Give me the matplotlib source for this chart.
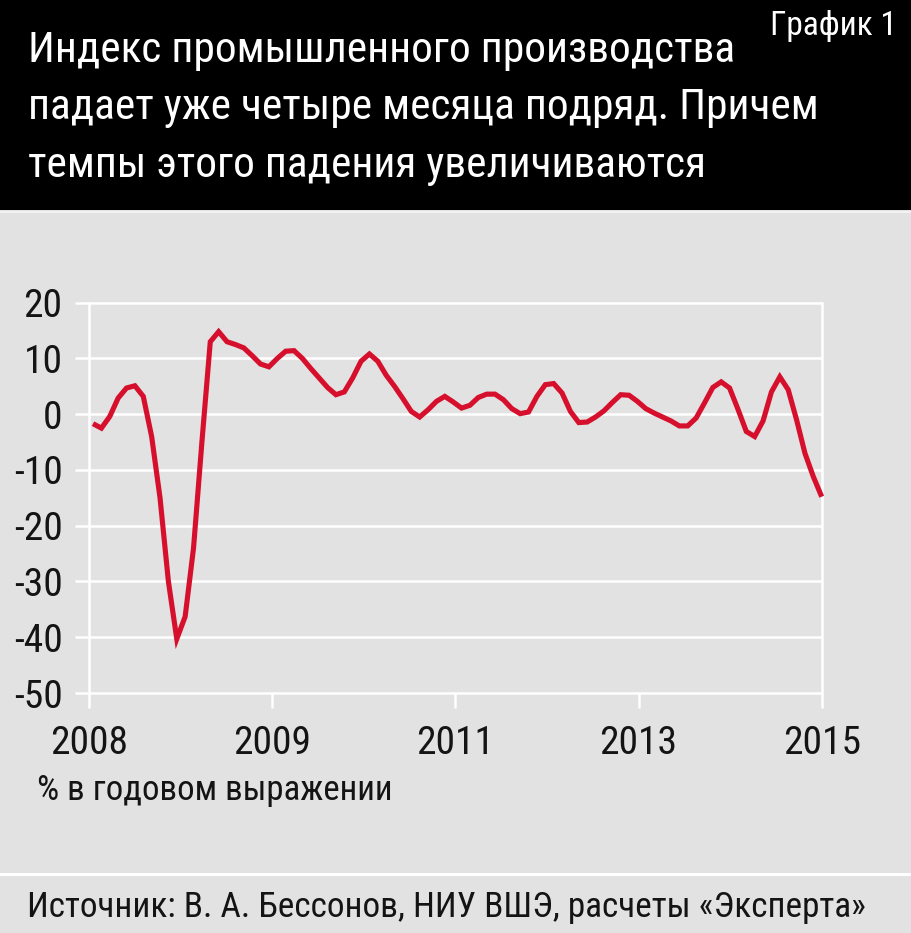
import matplotlib
matplotlib.use("Agg")
import matplotlib.pyplot as plt
from matplotlib import font_manager as fm
from matplotlib.patches import Rectangle
from matplotlib.lines import Line2D

# ---- data (monthly, Jan 2008 onward) ----
values = [-1.7, -2.5, -0.4, 2.9, 4.7, 5.1, 3.2, -4.0, -15.0, -30.0,
          -40.3, -36.3, -24.0, -5.0, 13.0, 14.8, 13.0, 12.5, 11.9, 10.5,
          9.0, 8.5, 10.0, 11.3, 11.4, 10.0, 8.2, 6.5, 4.8, 3.5,
          4.0, 6.5, 9.5, 10.8, 9.5, 7.0, 5.0, 2.8, 0.5, -0.5,
          0.8, 2.3, 3.2, 2.2, 1.1, 1.6, 3.0, 3.6, 3.6, 2.6,
          1.0, 0.1, 0.4, 3.2, 5.3, 5.5, 3.8, 0.5, -1.5, -1.4,
          -0.5, 0.6, 2.1, 3.5, 3.4, 2.3, 1.0, 0.2, -0.5, -1.2,
          -2.1, -2.1, -0.7, 2.0, 4.8, 5.8, 4.7, 0.9, -3.1, -4.0,
          -1.2, 4.0, 6.7, 4.4, -1.0, -7.0, -11.2, -14.8]
months = list(range(len(values)))

x_tick_labels = ["2008", "2009", "2011", "2013", "2015"]
y_ticks = [20, 10, 0, -10, -20, -30, -40, -50]

title_lines = ["Индекс промышленного производства",
               "падает уже четыре месяца подряд. Причем",
               "темпы этого падения увеличиваются"]
chart_no = "График 1"
unit_text = "% в годовом выражении"
source_text = "Источник: В. А. Бессонов, НИУ ВШЭ, расчеты «Эксперта»"

# ---- pick a narrow font if one is installed ----
names = {f.name for f in fm.fontManager.ttflist}
stretch = "normal"
if "Liberation Sans Narrow" in names:
    base = "Liberation Sans Narrow"
elif "Roboto Condensed" in names:
    base = "Roboto Condensed"
elif any(f.name == "DejaVu Sans" and "ondensed" in f.fname for f in fm.fontManager.ttflist):
    base = "DejaVu Sans"
    stretch = "condensed"
elif "Roboto" in names:
    base = "Roboto"
else:
    base = "Liberation Sans"
FONT = [base, "DejaVu Sans"]
plt.rcParams["font.family"] = FONT
plt.rcParams["font.stretch"] = stretch

W, H = 912, 933
BG = "#e2e2e2"
RED = "#d6102c"
INK = "#141414"

fig = plt.figure(figsize=(W / 100, H / 100), dpi=100, facecolor=BG)
renderer = fig.canvas.get_renderer()


def fy(py):
    return 1 - py / H


def fx(px):
    return px / W


def fit(t, target_w, max_size):
    """Scale a text's size so its drawn width matches target_w pixels."""
    w = t.get_window_extent(renderer).width
    size = t.get_fontsize() * target_w / w
    t.set_fontsize(min(size, max_size))
    return t


# header
fig.patches.append(Rectangle((0, fy(210)), 1, 210 / H, transform=fig.transFigure,
                             facecolor="black", edgecolor="none", zorder=0))
fig.add_artist(Line2D([0, 1], [fy(212), fy(212)], transform=fig.transFigure,
                      color="#f2f2f2", lw=1.5))
# separator before footer
fig.add_artist(Line2D([0, 1], [fy(873.5), fy(873.5)], transform=fig.transFigure,
                      color="white", lw=2.2))

title_w = [705, 805, 680]
tsizes = []
tt = []
for line, base_y, tw in zip(title_lines, [61.7, 119.5, 177.5], title_w):
    t = fig.text(fx(28), fy(base_y), line, color="white", fontsize=30,
                 ha="left", va="baseline")
    fit(t, tw, 34)
    tsizes.append(t.get_fontsize())
    tt.append(t)
ts = min(tsizes)
for t in tt:
    t.set_fontsize(ts)

t = fig.text(fx(897), fy(35), chart_no, color="white", fontsize=24,
             ha="right", va="baseline")
fit(t, 127, 25)

# axes
x_left, x_right = -0.48, 87.0
left_px, right_px = 89, 821.7
top_px, bot_px = 302.7, 693.0
ax = fig.add_axes([fx(left_px), fy(bot_px), (right_px - left_px) / W,
                   (bot_px - top_px) / H])
ax.patch.set_alpha(0)
ax.set_xlim(x_left, x_right)
ax.set_ylim(-50, 20)

for s in ["top", "bottom"]:
    ax.spines[s].set_visible(False)
for s in ["left", "right"]:
    ax.spines[s].set_color("white")
    ax.spines[s].set_linewidth(1.8)

ax.hlines(y_ticks, x_left, x_right, colors="white", linewidth=1.8,
          zorder=1, clip_on=False)

# tick label size: digits about 40 px wide for "20"
probe = fig.text(0, 0, "2008", fontsize=28)
fit(probe, 78, 28.5)
num_size = probe.get_fontsize()
probe.remove()

ax.set_yticks(y_ticks)
ax.set_yticklabels([str(v) for v in y_ticks])
ax.tick_params(axis="y", length=10, width=1.8, color="white", pad=9,
               labelsize=num_size, labelcolor=INK, direction="out")

step = (x_right - x_left) / 4
xt = [x_left + i * step for i in range(5)]
ax.set_xticks(xt)
ax.set_xticklabels(x_tick_labels)
ax.tick_params(axis="x", length=11, width=1.8, color="white", pad=12,
               labelsize=num_size, labelcolor=INK, direction="out")

ax.plot(months, values, color=RED, linewidth=3.7, solid_joinstyle="miter",
        solid_capstyle="butt", zorder=3, clip_on=False)

t = fig.text(fx(37), fy(800), unit_text, color=INK, fontsize=27,
             ha="left", va="baseline")
fit(t, 356, 28)
t = fig.text(fx(27), fy(916.7), source_text, color=INK, fontsize=27,
             ha="left", va="baseline")
fit(t, 838, 29)

fig.savefig("out.png", dpi=100, facecolor=BG)
